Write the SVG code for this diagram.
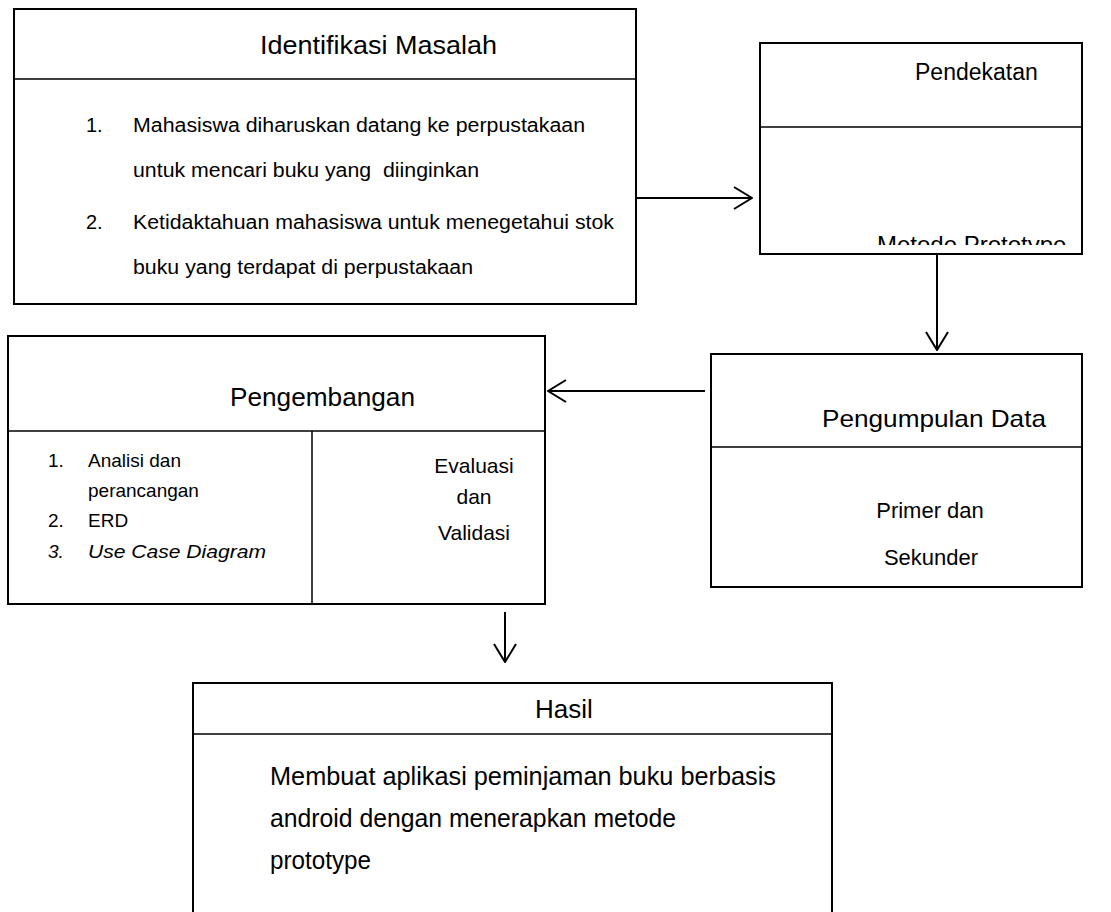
<svg xmlns="http://www.w3.org/2000/svg" width="1111" height="912" viewBox="0 0 1111 912">
<style>
.box{fill:#fff;stroke:#000;stroke-width:2}
.div{stroke:#000;stroke-width:1.5;fill:none}
text{font-family:"Liberation Sans",Arial,sans-serif;fill:#000}
.conn{stroke:#000;stroke-width:2;fill:none}
.it{font-size:20px}
.sm{font-size:19px}
.ev{font-size:21px}
</style>
<defs>
<marker id="arr" viewBox="0 0 20 24" refX="19" refY="12" markerWidth="20" markerHeight="24" markerUnits="userSpaceOnUse" orient="auto">
<path d="M1,1 L19,12 L1,23" fill="none" stroke="#000" stroke-width="2"/>
</marker>
<clipPath id="clipMP"><rect x="761" y="200" width="320" height="45"/></clipPath>
</defs>
<rect width="1111" height="912" fill="#fff"/>

<g id="identifikasi">
<rect class="box" x="14" y="9" width="622" height="295"/>
<line class="div" x1="14" y1="79" x2="636" y2="79"/>
<text x="260" y="54" font-size="26" textLength="237" lengthAdjust="spacingAndGlyphs">Identifikasi Masalah</text>
<text class="it" x="86" y="132">1.</text>
<text class="it" x="133" y="132" textLength="452" lengthAdjust="spacingAndGlyphs">Mahasiswa diharuskan datang ke perpustakaan</text>
<text class="it" x="133" y="177" textLength="346" lengthAdjust="spacingAndGlyphs" xml:space="preserve">untuk mencari buku yang  diinginkan</text>
<text class="it" x="86" y="229">2.</text>
<text class="it" x="133" y="229" textLength="481" lengthAdjust="spacingAndGlyphs">Ketidaktahuan mahasiswa untuk menegetahui stok</text>
<text class="it" x="133" y="274" textLength="340" lengthAdjust="spacingAndGlyphs">buku yang terdapat di perpustakaan</text>
</g>

<g id="pendekatan">
<rect class="box" x="760" y="43" width="322" height="211"/>
<line class="div" x1="760" y1="127" x2="1082" y2="127"/>
<text x="915" y="80" font-size="23">Pendekatan</text>
<text x="877" y="253" font-size="24" clip-path="url(#clipMP)">Metode Prototype</text>
</g>

<g id="pengumpulan">
<rect class="box" x="711" y="354" width="371" height="233"/>
<line class="div" x1="711" y1="447" x2="1082" y2="447"/>
<text x="822" y="427" font-size="24" textLength="224" lengthAdjust="spacingAndGlyphs">Pengumpulan Data</text>
<text x="930" y="518" font-size="22" text-anchor="middle">Primer dan</text>
<text x="931" y="565" font-size="22" text-anchor="middle">Sekunder</text>
</g>

<g id="pengembangan">
<rect class="box" x="8" y="336" width="537" height="268"/>
<line class="div" x1="8" y1="431" x2="545" y2="431"/>
<line class="div" x1="312" y1="431" x2="312" y2="604"/>
<text x="230" y="406" font-size="25" textLength="185" lengthAdjust="spacingAndGlyphs">Pengembangan</text>
<text class="sm" x="48" y="467">1.</text>
<text class="sm" x="88" y="467">Analisi dan</text>
<text class="sm" x="88" y="497">perancangan</text>
<text class="sm" x="48" y="527">2.</text>
<text class="sm" x="88" y="527">ERD</text>
<text class="sm" x="48" y="558" font-style="italic">3.</text>
<text class="sm" x="88" y="558" font-style="italic" textLength="178" lengthAdjust="spacingAndGlyphs">Use Case Diagram</text>
<text class="ev" x="474" y="473" text-anchor="middle">Evaluasi</text>
<text class="ev" x="474" y="504" text-anchor="middle">dan</text>
<text class="ev" x="474" y="540" text-anchor="middle">Validasi</text>
</g>

<g id="hasil">
<rect class="box" x="193" y="683" width="639" height="240"/>
<line class="div" x1="193" y1="734" x2="832" y2="734"/>
<text x="564" y="718" font-size="26" text-anchor="middle">Hasil</text>
<text x="270" y="785" font-size="25" textLength="506" lengthAdjust="spacingAndGlyphs">Membuat aplikasi peminjaman buku berbasis</text>
<text x="270" y="827" font-size="25" textLength="406" lengthAdjust="spacingAndGlyphs">android dengan menerapkan metode</text>
<text x="270" y="869" font-size="25" textLength="101" lengthAdjust="spacingAndGlyphs">prototype</text>
</g>

<g id="connectors">
<line class="conn" x1="636" y1="198" x2="752" y2="198" marker-end="url(#arr)"/>
<line class="conn" x1="937" y1="254" x2="937" y2="350" marker-end="url(#arr)"/>
<line class="conn" x1="705" y1="391" x2="548" y2="391" marker-end="url(#arr)"/>
<line class="conn" x1="505" y1="612" x2="505" y2="662" marker-end="url(#arr)"/>
</g>
</svg>
